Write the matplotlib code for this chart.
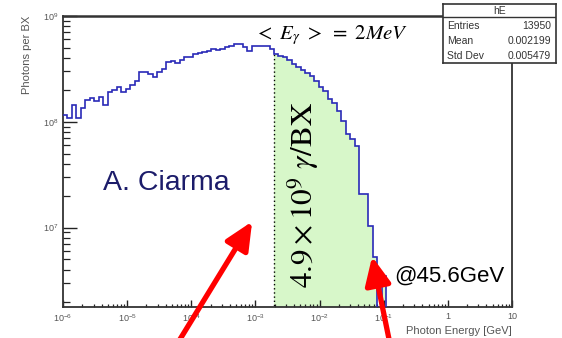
import numpy as np
import matplotlib
matplotlib.use("Agg")
import matplotlib.pyplot as plt

plt.rcParams['font.family'] = ['Liberation Sans', 'DejaVu Sans']
plt.rcParams['mathtext.fontset'] = 'custom'
plt.rcParams['mathtext.rm'] = 'Liberation Sans'
plt.rcParams['mathtext.it'] = 'Liberation Sans:italic'

# photon spectrum per bunch crossing, 100 log-uniform bins from 1e-6 to 10 GeV
bin_edges = np.logspace(-6, 1, 101)
photons = [
    1.16e8, 1.09e8, 1.45e8, 1.09e8, 1.36e8, 1.61e8, 1.68e8, 1.58e8, 1.72e8, 1.45e8,
    1.92e8, 2.00e8, 2.14e8, 1.92e8, 2.05e8, 2.23e8, 2.44e8, 2.96e8, 2.96e8, 2.84e8,
    2.66e8, 2.96e8, 3.16e8, 3.68e8, 3.76e8, 3.60e8, 3.85e8, 4.10e8, 4.10e8, 4.38e8,
    4.48e8, 4.57e8, 4.68e8, 4.89e8, 4.78e8, 4.89e8, 5.10e8, 5.21e8, 5.44e8, 5.44e8,
    5.10e8, 4.68e8, 5.21e8, 5.21e8, 5.21e8, 5.21e8, 4.89e8, 4.38e8, 4.20e8, 4.10e8,
    3.85e8, 3.52e8, 3.30e8, 3.10e8, 2.90e8, 2.72e8, 2.44e8, 2.14e8, 1.96e8, 1.65e8,
    1.51e8, 1.27e8, 1.02e8, 7.71e7, 6.92e7, 5.94e7, 2.09e7, 2.09e7, 1.04e7, 5.32e6,
    0.0, 3.52e6,
]
cut_bin = 47  # first bin above <E> = 2 MeV

stats_rows = [("Entries", "13950"), ("Mean", "0.002199"), ("Std Dev", "0.005479")]
x_ticks = [1e-6, 1e-5, 1e-4, 1e-3, 1e-2, 1e-1, 1, 10]
x_ticklabels = [r'$10^{-6}$', r'$10^{-5}$', r'$10^{-4}$', r'$10^{-3}$',
                r'$10^{-2}$', r'$10^{-1}$', '1', '10']
y_ticks = [1e7, 1e8, 1e9]

vals = np.zeros(len(bin_edges) - 1)
vals[:len(photons)] = photons
draw_vals = np.where(vals > 0, vals, 1.0)  # empty bins fall below the frame

fig = plt.figure(figsize=(5.62, 3.38), dpi=100)
ax = fig.add_axes([0.112, 0.092, 0.799, 0.861])
ax.set_xscale('log')
ax.set_yscale('log')
ax.set_xlim(1e-6, 10)
ax.set_ylim(1.78e6, 1e9)

# shaded region above the mean energy
n_fill = len(photons)
fx = bin_edges[cut_bin:n_fill + 1]
fy = np.r_[draw_vals[cut_bin:n_fill], draw_vals[n_fill - 1]]
ax.fill_between(fx, fy, 1.0, step='post', color='#d7f7c9', lw=0, zorder=1)
ax.plot([bin_edges[cut_bin]] * 2, [1.0, draw_vals[cut_bin]], ls=(0, (1, 2)),
        color='black', lw=1.0, zorder=2)

ax.stairs(draw_vals, bin_edges, baseline=None, color='#2a2ab8', lw=1.2, zorder=3)

# axis styling
for s in ax.spines.values():
    s.set_color('#333333')
    s.set_linewidth(1.3)
ax.spines['top'].set_linewidth(1.8)
ax.tick_params(which='both', direction='in', top=False, right=False,
               colors='#222222', labelcolor='#555555', labelsize=6.5)
ax.tick_params(axis='y', which='major', length=10, width=1.0)
ax.tick_params(axis='y', which='minor', length=5, width=0.9)
ax.tick_params(axis='x', which='major', length=5, width=1.0, pad=4)
ax.tick_params(axis='x', which='minor', length=2.5, width=0.9)
ax.set_xticks(x_ticks)
ax.set_xticklabels(x_ticklabels)
ax.set_yticks(y_ticks)
ax.yaxis.set_minor_locator(matplotlib.ticker.LogLocator(base=10, subs=np.arange(2, 10)))
ax.yaxis.set_minor_formatter(matplotlib.ticker.NullFormatter())
ax.xaxis.set_minor_locator(matplotlib.ticker.LogLocator(base=10, subs=np.arange(2, 10)))
ax.xaxis.set_minor_formatter(matplotlib.ticker.NullFormatter())

ax.set_ylabel('Photons per BX', loc='top', fontsize=8, color='#555555', labelpad=8)
ax.set_xlabel('Photon Energy [GeV]', loc='right', fontsize=8, color='#555555', labelpad=1)

# annotations
ax.text(0.597, 0.935, r'$<\ E_{\gamma}\ >\ =\ 2MeV$', transform=ax.transAxes,
        math_fontfamily='stix', fontsize=15, ha='center', va='center')
ax.text(0.536, 0.385, r'$4.9\times10^{9}\ \gamma/\mathrm{BX}$', transform=ax.transAxes,
        math_fontfamily='stix', fontsize=22.5, rotation=90, ha='center', va='center')
ax.text(0.089, 0.425, 'A. Ciarma', transform=ax.transAxes, fontsize=20.5,
        color='#1c1c6a', ha='left', va='center')
ax.text(0.738, 0.105, '@45.6GeV', transform=ax.transAxes, fontsize=16,
        color='black', ha='left', va='center')

arrow_kw = dict(arrowstyle='-|>,head_length=1.3,head_width=0.6', color='#ff0000',
                lw=3.8, shrinkA=0, shrinkB=0, mutation_scale=13)
ax.annotate('', xy=(8.9e-4, 1.14e7), xycoords='data',
            xytext=(0.318, -0.01), textcoords='figure fraction',
            arrowprops=arrow_kw, annotation_clip=False, zorder=5)
ax.annotate('', xy=(0.066, draw_vals[69]), xycoords='data',
            xytext=(0.693, -0.01), textcoords='figure fraction',
            arrowprops=arrow_kw, annotation_clip=False, zorder=5)

# statistics box
sb = fig.add_axes([0.788, 0.814, 0.201, 0.174])
sb.set_xticks([])
sb.set_yticks([])
for s in sb.spines.values():
    s.set_color('#333333')
    s.set_linewidth(1.2)
sb.axhline(0.78, color='#333333', lw=1.0)
sb.text(0.5, 0.89, 'hE', ha='center', va='center', fontsize=7.5, color='#333333')
for i, (k, v) in enumerate(stats_rows):
    yy = 0.62 - i * 0.25
    sb.text(0.04, yy, k, ha='left', va='center', fontsize=7.5, color='#333333')
    sb.text(0.96, yy, v, ha='right', va='center', fontsize=7.5, color='#333333')

fig.savefig('out.png', dpi=100, facecolor='white')
